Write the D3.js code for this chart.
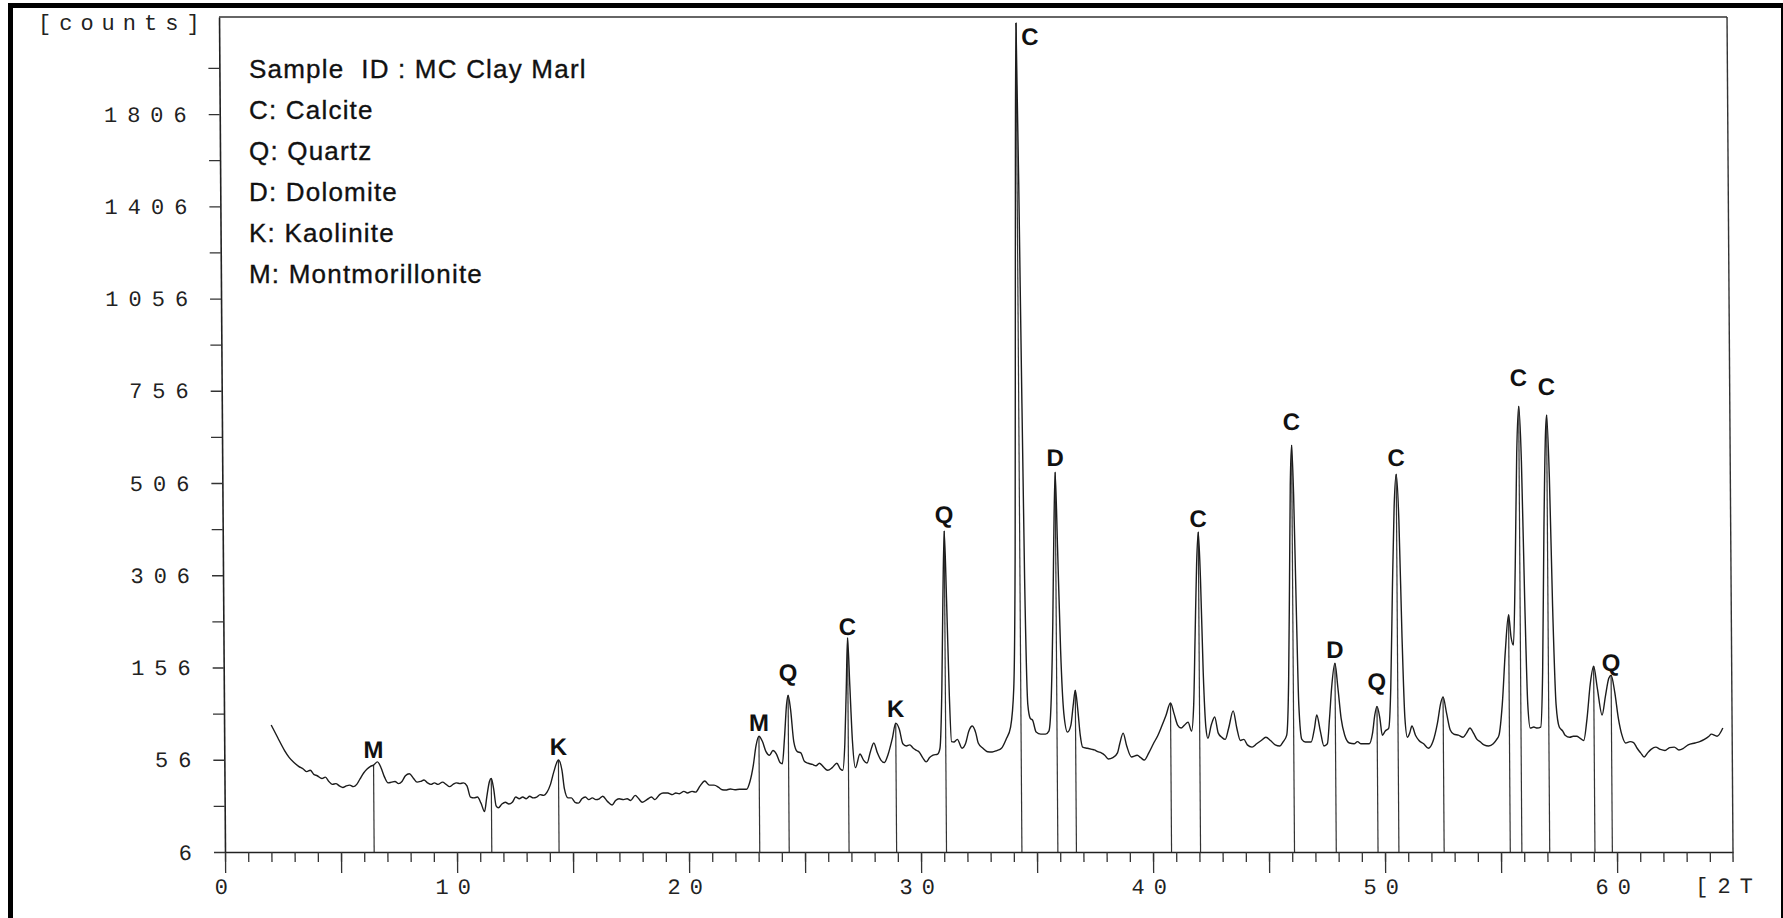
<!DOCTYPE html>
<html>
<head>
<meta charset="utf-8">
<script src="https://cdn.jsdelivr.net/npm/d3@7"></script>
<style>
  html, body { margin: 0; padding: 0; background: #fff; }
  svg { display: block; }
  .mono { font-family: "Liberation Mono", "DejaVu Sans Mono", monospace; font-size: 22px; fill: #222; }
  .legend { font-family: "Liberation Sans", Arial, sans-serif; font-size: 26px; letter-spacing: 1.2px; fill: #111;
            stroke: #111; stroke-width: 0.35px; white-space: pre; }
  .plabel { font-family: "Liberation Sans", Arial, sans-serif; font-size: 24px; font-weight: bold; fill: #111; }
</style>
</head>
<body>
<svg id="chart" width="1783" height="918"></svg>
<script>
// Diffractogram of the MC Clay Marl sample: [2-theta (deg), intensity (counts)]
const profile = [
  [2.03, 88], [2.3, 76], [2.6, 64], [2.8, 58], [3.0, 54], [3.2, 51], [3.4, 49], [3.55, 47],
  [3.7, 48], [3.85, 45], [4.0, 44], [4.2, 42], [4.35, 43], [4.5, 40], [4.65, 38], [4.8, 38.5],
  [4.95, 37], [5.1, 36], [5.25, 37], [5.4, 37.5], [5.55, 36.5], [5.7, 38], [5.85, 42], [6.0, 46],
  [6.15, 49], [6.3, 51], [6.43, 52], [6.6, 54.5], [6.75, 50], [6.9, 43], [7.05, 39], [7.2, 39.5],
  [7.35, 40], [7.5, 38.5], [7.65, 40], [7.8, 44], [7.97, 45.5], [8.15, 42], [8.3, 39.5], [8.45, 40],
  [8.6, 41], [8.75, 39], [8.9, 38], [9.05, 39], [9.2, 38], [9.4, 39.5], [9.55, 38], [9.7, 36.5],
  [9.85, 38], [10.0, 39], [10.15, 38.5], [10.3, 39], [10.45, 37], [10.6, 30], [10.75, 29.5], [10.9, 30],
  [11.05, 26.5], [11.2, 22], [11.3, 30], [11.42, 40], [11.5, 42], [11.6, 35], [11.7, 25], [11.8, 24],
  [11.95, 26], [12.1, 27], [12.25, 26], [12.4, 27], [12.55, 30], [12.7, 29], [12.85, 30], [13.0, 29],
  [13.15, 30.5], [13.3, 29.5], [13.45, 30], [13.6, 31.5], [13.75, 31], [13.9, 33], [14.05, 38], [14.2, 47],
  [14.4, 56], [14.55, 48], [14.65, 35], [14.8, 29.5], [14.95, 29.5], [15.1, 27], [15.25, 26.5], [15.4, 29],
  [15.55, 30], [15.7, 28.5], [15.85, 29.5], [16.0, 28.5], [16.15, 29], [16.3, 30.5], [16.5, 27.5], [16.7, 25.5],
  [16.85, 28], [17.0, 29], [17.2, 28.5], [17.35, 29], [17.5, 28], [17.7, 31], [17.85, 29], [18.0, 27],
  [18.2, 28.5], [18.4, 30], [18.55, 28.5], [18.75, 31.5], [18.9, 32.5], [19.1, 32.5], [19.3, 31.5], [19.45, 32.5],
  [19.6, 32], [19.8, 33.5], [19.95, 32.5], [20.15, 33.5], [20.3, 33], [20.5, 37], [20.7, 40.3], [20.9, 37.5],
  [21.1, 37.5], [21.3, 36], [21.45, 34.5], [21.6, 34.3], [21.8, 35], [22.0, 34.5], [22.2, 34.8], [22.5, 34.8],
  [22.65, 40], [22.8, 52], [22.92, 68], [23.05, 77], [23.2, 72], [23.35, 63], [23.5, 60], [23.65, 64],
  [23.8, 61], [23.95, 54], [24.05, 53], [24.15, 75], [24.25, 110], [24.32, 121], [24.42, 105], [24.55, 72],
  [24.7, 63], [24.85, 62], [25.0, 55], [25.15, 53.5], [25.35, 52.5], [25.5, 51.5], [25.65, 53.5], [25.8, 51],
  [26.0, 48], [26.2, 50], [26.4, 53.5], [26.55, 49], [26.65, 48], [26.75, 70], [26.83, 130], [26.9, 199],
  [26.98, 135], [27.08, 72], [27.2, 50], [27.4, 61], [27.55, 56], [27.7, 53.6], [27.85, 63], [28.0, 70.7],
  [28.15, 62], [28.3, 56], [28.45, 54], [28.6, 60], [28.8, 75], [28.95, 90], [29.1, 84], [29.25, 70],
  [29.4, 68], [29.55, 69], [29.7, 66], [29.85, 64], [29.95, 62.7], [30.1, 58], [30.25, 54.5], [30.4, 58],
  [30.55, 60], [30.75, 61], [30.85, 66], [30.95, 130], [31.02, 260], [31.1, 396], [31.18, 260], [31.27, 120],
  [31.35, 72], [31.45, 71.6], [31.6, 74], [31.8, 66], [31.95, 70], [32.1, 82], [32.25, 87], [32.4, 80],
  [32.5, 70.7], [32.7, 66], [32.9, 63], [33.1, 62.7], [33.3, 64], [33.5, 66], [33.7, 74], [33.9, 86],
  [34.05, 130], [34.15, 350], [34.25, 1200], [34.35, 2250], [34.45, 1100], [34.55, 300], [34.65, 110], [34.75, 95],
  [34.85, 93], [35.0, 81], [35.2, 79], [35.4, 79], [35.55, 82], [35.65, 110], [35.75, 220], [35.82, 380],
  [35.9, 533], [35.98, 360], [36.08, 180], [36.2, 100], [36.35, 81], [36.5, 88], [36.6, 108], [36.7, 127],
  [36.8, 105], [36.9, 78], [37.0, 67], [37.2, 66], [37.4, 65], [37.5, 64.5], [37.65, 63], [37.8, 62],
  [37.95, 60], [38.1, 56.9], [38.3, 58], [38.5, 62], [38.6, 70], [38.75, 80], [38.9, 68], [39.1, 58.5],
  [39.35, 60], [39.5, 58], [39.65, 56], [39.85, 62], [40.05, 70], [40.25, 78], [40.4, 86], [40.6, 98],
  [40.8, 112], [40.95, 100], [41.1, 88], [41.25, 85], [41.4, 88], [41.55, 91], [41.7, 82], [41.8, 110],
  [41.88, 200], [41.97, 330], [42.05, 394], [42.13, 300], [42.22, 150], [42.32, 85], [42.4, 75], [42.55, 88],
  [42.7, 96.4], [42.85, 80], [43.0, 76], [43.15, 74], [43.3, 85], [43.5, 103], [43.65, 85], [43.8, 73],
  [43.95, 74], [44.1, 69], [44.3, 67], [44.5, 70], [44.7, 73], [44.9, 76], [45.1, 73], [45.3, 69],
  [45.5, 68], [45.65, 72], [45.8, 78], [45.9, 140], [45.97, 300], [46.03, 500], [46.1, 603], [46.17, 480],
  [46.25, 250], [46.33, 110], [46.45, 74], [46.6, 71.6], [46.85, 71.6], [47.0, 85], [47.1, 98.6], [47.25, 82],
  [47.4, 68], [47.55, 70], [47.65, 95], [47.75, 130], [47.9, 162], [48.02, 130], [48.15, 95], [48.3, 78],
  [48.5, 70.7], [48.7, 70], [48.85, 72], [49.0, 70], [49.2, 70], [49.35, 70], [49.5, 80], [49.6, 98],
  [49.7, 108], [49.82, 95], [49.92, 78], [50.05, 82], [50.2, 85], [50.3, 130], [50.4, 280], [50.5, 450],
  [50.6, 528], [50.7, 420], [50.8, 200], [50.9, 95], [51.0, 76], [51.1, 80], [51.2, 87], [51.35, 78],
  [51.5, 73], [51.7, 70], [51.9, 66], [52.1, 72], [52.3, 90], [52.45, 112], [52.55, 119], [52.7, 100],
  [52.85, 83], [53.0, 79], [53.2, 78], [53.4, 76], [53.55, 80], [53.7, 85], [53.85, 80], [54.0, 74],
  [54.15, 71.6], [54.3, 69], [54.5, 68], [54.7, 70], [54.85, 74], [54.95, 78], [55.1, 110], [55.25, 180],
  [55.4, 236], [55.5, 200], [55.6, 188], [55.7, 320], [55.8, 580], [55.9, 711], [56.0, 560], [56.1, 260],
  [56.2, 110], [56.3, 85], [56.45, 86], [56.6, 85], [56.75, 86], [56.85, 150], [56.95, 400], [57.05, 640],
  [57.1, 686], [57.2, 520], [57.3, 250], [57.42, 110], [57.55, 86], [57.7, 82], [57.8, 78], [58.0, 76],
  [58.15, 77], [58.3, 77], [58.45, 75], [58.6, 73], [58.75, 95], [58.9, 135], [59.05, 158], [59.2, 130],
  [59.4, 98.6], [59.55, 120], [59.7, 142], [59.8, 146], [59.95, 125], [60.1, 95], [60.25, 78], [60.4, 70.7],
  [60.6, 72], [60.75, 71], [60.9, 66], [61.05, 62], [61.2, 58.5], [61.35, 62], [61.5, 65], [61.7, 67],
  [61.9, 65], [62.1, 64], [62.3, 66.5], [62.5, 67], [62.7, 64.5], [62.9, 66], [63.1, 69], [63.4, 70.7],
  [63.6, 72], [63.8, 74], [64.0, 77], [64.1, 79], [64.35, 77], [64.6, 85]
];

// Reflection positions marked with a drop line (2-theta, deg)
const dropAngles = [6.43, 11.5, 14.4, 23.05, 24.32, 26.9, 28.95, 31.1, 34.35, 35.9, 36.7, 40.8,
  42.05, 46.1, 47.9, 49.7, 50.6, 52.55, 55.4, 55.9, 57.1, 59.05, 59.8];

// Phase letters and the reflections they identify
const peakPhases = ["M", "K", "M", "Q", "C", "K", "Q", "C", "D", "C", "C", "D", "Q", "C", "C", "C", "Q"];
const peakAngles = [6.43, 14.4, 23.05, 24.32, 26.9, 28.95, 31.1, 34.35, 35.9, 42.05, 46.1, 47.9, 49.7, 50.6, 55.9, 57.1, 59.8];

// Intensity axis (square-root scale)
const yTickCounts = [6.25, 56.25, 156.25, 306.25, 506.25, 756.25, 1056.25, 1406.25, 1806.25];
const yTickLabels = ["6", "56", "156", "306", "506", "756", "1056", "1406", "1806"];
const yMinorCounts = [25, 100, 225, 400, 625, 900, 1225, 1600, 2025];

// 2-theta axis
const xMajorTicks = [0, 5, 10, 15, 20, 25, 30, 35, 40, 45, 50, 55, 60];
const xMinorTicks = d3.range(0, 65, 1);
const xTickLabels = ["0", "", "10", "", "20", "", "30", "", "40", "", "50", "", "60"];

const legendLines = ["Sample  ID : MC Clay Marl", "C: Calcite", "Q: Quartz", "D: Dolomite", "K: Kaolinite", "M: Montmorillonite"];

const svg = d3.select("#chart");
const plotLeft = 225, plotRight = 1733, plotTop = 17, plotBottom = 852;

const x = d3.scaleLinear().domain([0, 65]).range([plotLeft, plotRight]);
const y = d3.scaleSqrt().domain([6.25, 2281]).range([plotBottom, plotTop]);

// frame of the sheet
svg.append("rect").attr("x", 8).attr("y", 3).attr("width", 1775).attr("height", 5).attr("fill", "#000");
svg.append("rect").attr("x", 8).attr("y", 3).attr("width", 5).attr("height", 915).attr("fill", "#000");
svg.append("rect").attr("x", 1781).attr("y", 3).attr("width", 2).attr("height", 915).attr("fill", "#000");

// the plotter sheet leans slightly: vertical lines drift left towards the top
const kx = Math.tan(0.41 * Math.PI / 180);
const g = svg.append("g").attr("transform", `matrix(1,0,${kx},1,${-plotBottom * kx},0)`);

// drop lines from the axis to the pattern at each marked reflection
const nearest = a => profile.reduce((b, p) => Math.abs(p[0] - a) < Math.abs(b[0] - a) ? p : b);
g.append("g").selectAll("line").data(dropAngles).join("line")
  .attr("x1", d => x(d)).attr("x2", d => x(d))
  .attr("y1", y(6.25)).attr("y2", d => y(nearest(d)[1]))
  .attr("stroke", "#333").attr("stroke-width", 1.2);

// diffraction pattern
const line = d3.line().x(d => x(d[0])).y(d => y(d[1])).curve(d3.curveMonotoneX);
g.append("path").datum(profile).attr("d", line)
  .attr("fill", "none").attr("stroke", "#1c1c1c").attr("stroke-width", 1.4).attr("stroke-linejoin", "round");

// x axis: 1-degree ticks, longer 5-degree ticks
g.append("g").attr("transform", `translate(0,${plotBottom})`)
  .call(d3.axisBottom(x).tickValues(xMinorTicks).tickSize(10).tickSizeOuter(0).tickFormat(""))
  .call(s => s.select(".domain").attr("stroke", "#222").attr("stroke-width", 1.6))
  .call(s => s.selectAll(".tick line").attr("stroke", "#333").attr("stroke-width", 1.3));
g.append("g").attr("transform", `translate(0,${plotBottom})`)
  .call(d3.axisBottom(x).tickValues(xMajorTicks).tickSize(21).tickSizeOuter(0).tickPadding(5)
    .tickFormat((d, i) => xTickLabels[i]))
  .call(s => s.select(".domain").remove())
  .call(s => s.selectAll(".tick line").attr("stroke", "#333").attr("stroke-width", 1.3))
  .call(s => s.selectAll("text").attr("class", "mono").attr("font-size", null).attr("font-family", null)
    .style("letter-spacing", "9px"));
g.append("text").attr("class", "mono").attr("x", 1695).attr("y", 893).style("letter-spacing", "9px").text("[2T");

// y axis: labelled ticks at half-steps of the square-root scale
g.append("g").attr("transform", `translate(${plotLeft},0)`)
  .call(d3.axisLeft(y).tickValues(yMinorCounts).tickSize(11).tickSizeOuter(0).tickFormat(""))
  .call(s => s.select(".domain").attr("stroke", "#222").attr("stroke-width", 1.6))
  .call(s => s.selectAll(".tick line").attr("stroke", "#333").attr("stroke-width", 1.3));
g.append("g").attr("transform", `translate(${plotLeft},0)`)
  .call(d3.axisLeft(y).tickValues(yTickCounts).tickSize(11).tickSizeOuter(0).tickPadding(12)
    .tickFormat((d, i) => yTickLabels[i]))
  .call(s => s.select(".domain").remove())
  .call(s => s.selectAll(".tick line").attr("stroke", "#333").attr("stroke-width", 1.3))
  .call(s => s.selectAll("text").attr("class", "mono").attr("font-size", null).attr("font-family", null)
    .style("letter-spacing", "10px"));

// top and right edges of the plot box
g.append("line").attr("x1", plotLeft).attr("x2", plotRight).attr("y1", plotTop).attr("y2", plotTop)
  .attr("stroke", "#333").attr("stroke-width", 1.4);
g.append("line").attr("x1", plotRight).attr("x2", plotRight).attr("y1", plotTop).attr("y2", plotBottom + 10)
  .attr("stroke", "#333").attr("stroke-width", 1.4);

// phase letters above their reflections; gap between letter baseline and peak top, in px
const labelGaps = [4, 5, 5, 14, 3, 6, 8, 0, 6, 5, 15, 5, 16, 8, 20, 20, 4];
g.append("g").selectAll("text").data(peakAngles).join("text")
  .attr("class", "plabel")
  .each(function (a, i) {
    const tip = d3.max(profile.filter(p => Math.abs(p[0] - a) <= 0.2), p => p[1]);
    const ty = y(tip);
    const t = d3.select(this).text(peakPhases[i]);
    if (ty - 26 < plotTop) {
      t.attr("x", x(a) + 5).attr("y", plotTop + 28).attr("text-anchor", "start");
    } else {
      t.attr("x", x(a)).attr("y", ty - labelGaps[i]).attr("text-anchor", "middle");
    }
  });

// intensity unit
svg.append("text").attr("class", "mono").attr("x", 38).attr("y", 30).style("letter-spacing", "8px").text("[counts]");

// sample and phase key
svg.append("g").selectAll("text").data(legendLines).join("text")
  .attr("class", "legend")
  .attr("x", 249).attr("y", (d, i) => 78 + i * 41)
  .text(d => d);
</script>
</body>
</html>
